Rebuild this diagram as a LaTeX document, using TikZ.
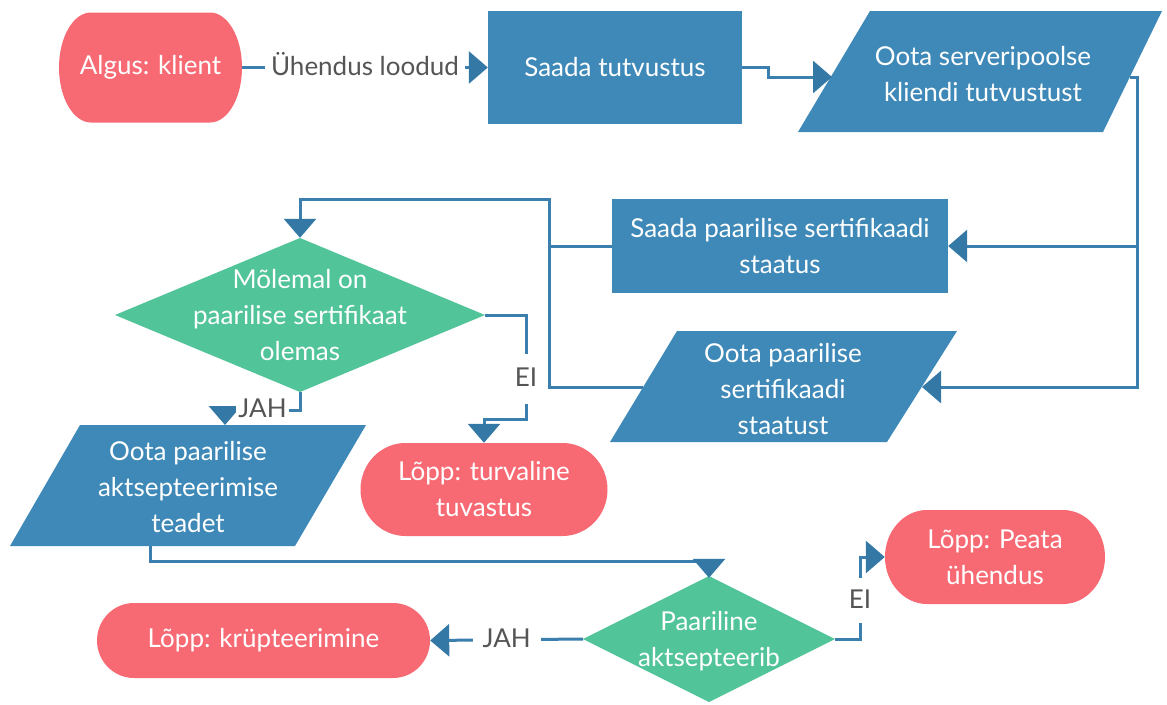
\documentclass[tikz,border=0pt]{standalone}
\usepackage{fontspec}
\setmainfont{Lato}
\usetikzlibrary{arrows.meta}

\definecolor{boxblue}{HTML}{3E89B7}
\definecolor{pillred}{HTML}{F76A74}
\definecolor{diagreen}{HTML}{52C49A}
\definecolor{linecol}{HTML}{3B7FAE}
\definecolor{arrowcol}{HTML}{3479A6}
\definecolor{labelgray}{HTML}{555555}

% stadium-like terminal: centre x, centre y, half width, half height, end radius
\newcommand\pillfill[5]{%
  \fill[pillred] ({#1-#3+#5},{#2+#4}) -- ({#1+#3-#5},{#2+#4})
    arc[start angle=90,end angle=-90,x radius=#5,y radius=#4]
    -- ({#1-#3+#5},{#2-#4})
    arc[start angle=-90,end angle=-270,x radius=#5,y radius=#4] -- cycle;}

\tikzset{
  every node/.style={font=\fontsize{26}{36}\selectfont},
  ntext/.style={text=white, align=center, inner sep=0pt},
  conn/.style={draw=linecol, line width=3pt},
  arr/.style={conn, -{Triangle[width=32pt,length=19pt,color=arrowcol]}},
  lbl/.style={fill=white, text=labelgray, text height=18.5pt, text depth=3pt,
              inner xsep=6pt, inner ysep=6pt},
}

\begin{document}
\begin{tikzpicture}[x=1pt,y=-1pt]
\useasboundingbox[fill=white] (0,0) rectangle (1167,704);

% ---- shapes ----
\pillfill{150.5}{67.5}{91.5}{55}{32}
\fill[boxblue] (488,11) rectangle (742,124);
\fill[boxblue] (870,11) -- (1162,11) -- (1103,132) -- (798,132) -- cycle;
\fill[boxblue] (612,199) rectangle (948,293);
\fill[boxblue] (677,331) -- (957,331) -- (887,442) -- (610,442) -- cycle;
\fill[diagreen] (115,315) -- (300,238) -- (485,315) -- (300,392) -- cycle;
\pillfill{484}{489.5}{123.5}{46.5}{45}
\fill[boxblue] (80,425) -- (366,425) -- (295,546) -- (10,546) -- cycle;
\fill[diagreen] (583,639) -- (709,576) -- (835,639) -- (709,702) -- cycle;
\pillfill{263.5}{640.5}{166.5}{37.5}{37}
\pillfill{995}{557}{110}{47}{42}

% ---- texts ----
\node[ntext, minimum width=183pt, minimum height=110pt] (start) at (150.5,67.5) {Algus: klient};
\node[ntext, minimum width=254pt, minimum height=113pt] (box1) at (615,67.5) {Saada tutvustus};
\node[ntext] (p1) at (983,74) {Oota serveripoolse\\kliendi tutvustust};
\node[ntext, minimum width=336pt, minimum height=94pt] (box2) at (780,246) {Saada paarilise sertifikaadi\\staatus};
\node[ntext] (p7) at (783,389) {Oota paarilise\\sertifikaadi\\staatust};
\node[ntext, minimum width=370pt, minimum height=154pt] (d1) at (300,315) {Mõlemal on\\paarilise sertifikaat\\olemas};
\node[ntext, minimum width=247pt, minimum height=93pt] (t1) at (484,489.5) {Lõpp: turvaline\\tuvastus};
\node[ntext] (p2) at (188,487) {Oota paarilise\\aktsepteerimise\\teadet};
\node[ntext, minimum width=252pt, minimum height=126pt] (d2) at (709,641) {Paariline\\aktsepteerib};
\node[ntext, minimum width=333pt, minimum height=75pt] (kr) at (263.5,640.5) {Lõpp: krüpteerimine};
\node[ntext, minimum width=220pt, minimum height=94pt] (pe) at (995,557) {Lõpp: Peata\\ühendus};

% ---- connector end points on slanted edges ----
\coordinate (p1in) at (832,77);
\coordinate (p1out) at (1130,77);
\coordinate (p7in) at (922,387);
\coordinate (p7out) at (643,387);
\coordinate (p2in) at (225,425);
\coordinate (p2out) at (150,546);
\coordinate (d2w) at (583,639);
\coordinate (d2e) at (835,639);

% ---- connectors ----
\draw[arr] (start.east) -- node[lbl, inner xsep=6pt] {Ühendus loodud} (box1.west);
\draw[arr] (box1.east) -- (768,67.5) |- (p1in);
\draw[arr] (p1out) -| (1137,387) -- (p7in);
\draw[arr] (1137,246) -- (box2.east);
\draw[arr] (box2.west) -| (549,199) -| (d1.north);
\draw[conn] (p7out) -| (549,246);
\draw[arr] (d1.east) -- (526,315) -- node[lbl, pos=0.615, inner ysep=14pt] {EI} (526,419) -| (t1.north);
\draw[arr] (d1.south) -- (300,410) -- node[lbl, inner xsep=2pt, inner ysep=2pt] {JAH} (225,410) -- (p2in);
\draw[arr] (p2out) -- (150,561) -| (d2.north);
\draw[arr] (d2w) -- node[lbl, inner xsep=10pt] {JAH} (kr.east);
\draw[arr] (d2e) -- (860,639) -- node[lbl, pos=0.47, inner ysep=12pt] {EI} (860,557) -- (pe.west);
\end{tikzpicture}
\end{document}
